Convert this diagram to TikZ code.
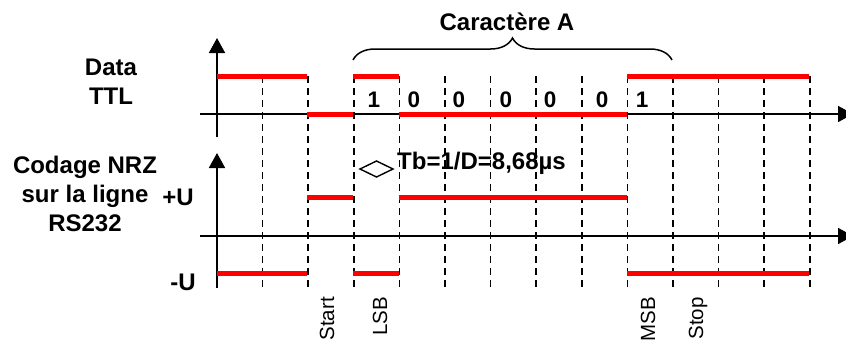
\documentclass[tikz,border=0pt]{standalone}
\usepackage{fontspec}
\setmainfont{Liberation Sans}
\usetikzlibrary{arrows.meta,decorations.pathreplacing}
\tikzset{
  axisline/.style={line width=1.8pt,-{Triangle[length=15pt,width=16pt]}},
  grid/.style={line width=1.6pt,dash pattern=on 7pt off 5pt},
  sig/.style={line width=5pt,red},
  big/.style={inner sep=0pt,font=\fontsize{24}{29}\selectfont\bfseries},
  digit/.style={inner sep=0pt,anchor=base,font=\fontsize{22.5}{26}\selectfont\bfseries},
  small/.style={inner sep=0pt,rotate=90,anchor=east,font=\fontsize{20.5}{24}\selectfont},
}
\begin{document}
\begin{tikzpicture}[x=1pt,y=-1pt]
\useasboundingbox (0,0) rectangle (846,341);
% grid
\foreach \i in {1,...,13}{
  \draw[grid] ({217+45.6*\i},76) -- ({217+45.6*\i},290);
}
% axes
\coordinate (ta0) at (217,137); \coordinate (ta1) at (217,38);
\coordinate (th0) at (200,114); \coordinate (th1) at (853,114);
\coordinate (ba0) at (217,288); \coordinate (ba1) at (217,153);
\coordinate (bh0) at (200,236); \coordinate (bh1) at (853,236);
\draw[axisline] (ta0) -- (ta1);
\draw[axisline] (th0) -- (th1);
\draw[axisline] (ba0) -- (ba1);
\draw[axisline] (bh0) -- (bh1);
% TTL signal
\draw[sig] (217,76) -- (307,76);
\draw[sig] (307,114) -- (353,114);
\draw[sig] (353,76) -- (399,76);
\draw[sig] (399,114) -- (627,114);
\draw[sig] (627,76) -- (809,76);
% NRZ signal
\draw[sig] (217,273) -- (307,273);
\draw[sig] (307,197) -- (353,197);
\draw[sig] (353,273) -- (399,273);
\draw[sig] (399,197) -- (627,197);
\draw[sig] (627,273) -- (809,273);
% brace
\coordinate (br0) at (353,60); \coordinate (br1) at (672,60);
\draw[line width=1.5pt,decorate,decoration={brace,amplitude=22pt}] (br0) -- (br1);
\node[big,anchor=base] (car) at (507,30) {Caractère A};
% labels
\node[big,align=center] (ttl) at (111,81.5) {Data\\TTL};
\node[big,align=center] (nrz) at (85,193.5) {Codage NRZ\\sur la ligne\\RS232};
\node[big] (pu) at (178,197) {+U};
\node[big] (mu) at (183,282) {-U};
% bits
\node[digit] (b1) at (374,107) {1};
\node[digit] (b2) at (414,107) {0};
\node[digit] (b3) at (459,107) {0};
\node[digit] (b4) at (506,107) {0};
\node[digit] (b5) at (550,107) {0};
\node[digit] (b6) at (602,107) {0};
\node[digit] (b7) at (642,107) {1};
% Tb
\draw[line width=1.4pt] (360,169) -- (376.5,161) -- (393,169) -- (376.5,177) -- cycle;
\node[big,anchor=base west] (tb) at (397,169) {Tb=1/D=8,68µs};
% rotated labels
\node[small] (start) at (327,297) {Start};
\node[small] (lsb) at (380,297) {LSB};
\node[small] (msb) at (648,297) {MSB};
\node[small] (stop) at (698,297) {Stop};
\end{tikzpicture}
\end{document}
